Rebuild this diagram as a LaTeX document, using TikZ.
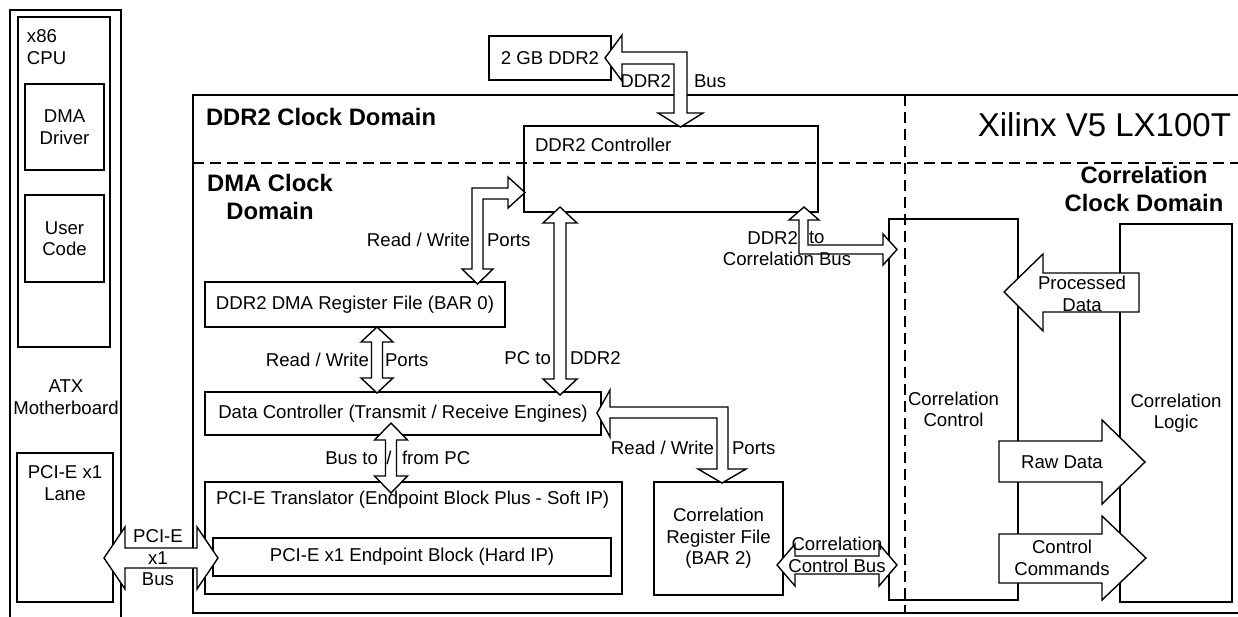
\documentclass[tikz,border=0pt]{standalone}
\usepackage{fontspec}
\setmainfont{Liberation Sans}
\usetikzlibrary{calc}
\newcommand\normaltext{\fontsize{18.6}{21.5}\selectfont}
\newcommand\headtext{\fontsize{23.8}{28}\selectfont\bfseries}
\newcommand\bigtext{\fontsize{33}{38}\selectfont}
\tikzset{
  box/.style={draw, line width=1.4pt, inner sep=0pt, outer sep=0pt,
    anchor=north west, align=center, font=\normaltext},
  blk/.style={draw, fill=white, line width=1.4pt, line join=miter},
  dom/.style={draw, line width=1.4pt, dash pattern=on 11pt off 6pt},
  lbl/.style={inner sep=0pt, outer sep=0pt, font=\normaltext, align=center},
  hd/.style={inner sep=0pt, outer sep=0pt, font=\headtext, align=center},
}
% vertical two-headed block arrow: top tip, bottom tip, shaft half width, head half width, head length
\newcommand\vdouble[5]{%
  \draw[blk] (#1) -- ++(#4,#5) -- ++(#3-#4,0) -- ($(#2)+(#3,-#5)$) -- ++(#4-#3,0)
    -- (#2) -- ++(-#4,-#5) -- ++(#4-#3,0) -- ($(#1)+(-#3,#5)$) -- ++(#3-#4,0) -- cycle;}
% horizontal two-headed block arrow: left tip, right tip, shaft half width, head half width, head length
\newcommand\hdouble[5]{%
  \draw[blk] (#1) -- ++(#5,-#4) -- ++(0,#4-#3) -- ($(#2)+(-#5,-#3)$) -- ++(0,#3-#4)
    -- (#2) -- ++(-#5,#4) -- ++(0,#3-#4) -- ($(#1)+(#5,#3)$) -- ++(0,#4-#3) -- cycle;}
\begin{document}
\begin{tikzpicture}[x=1pt,y=-1pt]
\clip (0,0) rectangle (1238,616);
\fill[white] (0,0) rectangle (1238,616);

% host side
\node[box, minimum width=111pt, minimum height=660pt] (atx) at (10,10) {};
\node[box, minimum width=92pt, minimum height=330pt] (cpu) at (18,17) {};
\node[box, minimum width=79pt, minimum height=86pt] (dmadrv) at (25,84) {DMA\\Driver};
\node[box, minimum width=79pt, minimum height=87pt] (usercode) at (25,195) {User\\Code};
\node[box, minimum width=96pt, minimum height=149pt] (lane) at (17,453) {};

% FPGA
\node[box, minimum width=1100pt, minimum height=518pt] (fpga) at (193,95) {};
\node[box, minimum width=122pt, minimum height=44pt] (mem) at (489,36) {2 GB DDR2};
\node[box, minimum width=294pt, minimum height=86pt] (ddrctl) at (524,126) {};
\node[box, minimum width=300pt, minimum height=45pt] (dmareg) at (205,282) {DDR2 DMA Register File (BAR 0)};
\node[box, minimum width=396pt, minimum height=43pt] (datactl) at (205,392) {Data Controller (Transmit / Receive Engines)};
\node[box, minimum width=417pt, minimum height=112pt] (pcitr) at (205,482) {};
\node[box, minimum width=398pt, minimum height=38pt] (endpt) at (213,538) {PCI-E x1 Endpoint Block (Hard IP)};
\node[box, minimum width=129pt, minimum height=113pt] (correg) at (654,482) {Correlation\\Register File\\(BAR 2)};
\node[box, minimum width=129pt, minimum height=381pt] (corrctl) at (889,219) {Correlation\\Control};
\node[box, minimum width=112pt, minimum height=378pt] (corrlogic) at (1120,224) {Correlation\\Logic};

% clock domain borders
\draw[dom] (193,163) -- (1240,163);
\draw[dom] (905,95) -- (905,613);

% connector end points
\coordinate (busA) at (605,58);
\coordinate (busB) at (680.5,127);
\coordinate (rwAtip) at (525,192.5);
\coordinate (rwAbot) at (477.5,284);
\coordinate (rwBtop) at (377,327);
\coordinate (rwBbot) at (377,393);
\coordinate (pcdTop) at (560,207);
\coordinate (pcdBot) at (560,395);
\coordinate (pcTop) at (391,423);
\coordinate (pcBot) at (391,493);
\coordinate (rwCtip) at (597,413);
\coordinate (rwCbot) at (722,483);
\coordinate (pcieL) at (104,558);
\coordinate (pcieR) at (218,558);
\coordinate (ccbL) at (777,565);
\coordinate (ccbR) at (897,565);
\coordinate (dcTop) at (804,207);
\coordinate (dcRight) at (897,249.5);
\coordinate (pdTip) at (1004,292);
\coordinate (rdTip) at (1145,462);
\coordinate (ccTip) at (1146,558);

% DDR2 bus: memory <-> DDR2 controller
\draw[blk] (busA) -- ++(17,-23) -- ++(0,17) -- ++(65,0) -- ++(0,61) -- ++(16,0)
  -- (busB) -- ++(-22.5,-14) -- ++(16,0) -- ++(0,-49) -- ++(-52,0) -- ++(0,17) -- cycle;
% DDR2 controller <-> DMA register file
\draw[blk] (rwAtip) -- ++(-17,-15.5) -- ++(0,11) -- ++(-36,0) -- ++(0,81) -- ++(-10,0)
  -- (rwAbot) -- ++(15.5,-15) -- ++(-10,0) -- ++(0,-70) -- ++(25,0) -- ++(0,9) -- cycle;
% register file <-> data controller
\vdouble{rwBtop}{rwBbot}{5.5}{16}{15}
% DDR2 controller <-> data controller
\vdouble{pcdTop}{pcdBot}{6}{17}{16}
% data controller <-> PCI-E translator
\vdouble{pcTop}{pcBot}{5.5}{16.5}{17}
% data controller <-> correlation register file
\draw[blk] (rwCtip) -- ++(13,-23) -- ++(0,17) -- ++(118,0) -- ++(0,62) -- ++(18,0)
  -- (rwCbot) -- ++(-24,-14) -- ++(19,0) -- ++(0,-51) -- ++(-107,0) -- ++(0,19) -- cycle;
% PCI-E x1 bus
\hdouble{pcieL}{pcieR}{10}{31}{21}
% correlation control bus
\hdouble{ccbL}{ccbR}{9}{21}{18}
% DDR2 to correlation bus
\draw[blk] (dcTop) -- ++(15,13) -- ++(-11,0) -- ++(0,25) -- ++(75,0) -- ++(0,-11)
  -- (dcRight) -- ++(-14,15.5) -- ++(0,-11) -- ++(-84,0) -- ++(0,-34) -- ++(-10,0) -- cycle;
% correlation logic -> control
\draw[blk] (pdTip) -- ++(39,-38) -- ++(0,19) -- ++(96,0) -- ++(0,39) -- ++(-96,0) -- ++(0,19) -- cycle;
\draw[blk] (rdTip) -- ++(-43,-42) -- ++(0,21) -- ++(-103,0) -- ++(0,41) -- ++(103,0) -- ++(0,22) -- cycle;
\draw[blk] (ccTip) -- ++(-44,-42) -- ++(0,18) -- ++(-103,0) -- ++(0,49) -- ++(103,0) -- ++(0,17) -- cycle;

% texts
\node[lbl, anchor=west, align=left] (cpulbl) at (27,47) {x86\\CPU};
\node[lbl] (atxlbl) at (66,397) {ATX\\Motherboard};
\node[lbl] (lanelbl) at (65,483) {PCI-E x1\\Lane};
\node[lbl] (pcielbl) at (158,558) {PCI-E\\x1\\Bus};
\node[hd, anchor=west] (ddrdom) at (206,117) {DDR2 Clock Domain};
\node[hd] (dmadom) at (270,197) {DMA Clock\\Domain};
\node[hd] (corrdom) at (1144,189) {Correlation\\Clock Domain};
\node[lbl, font=\bigtext, anchor=east] (chip) at (1231,125) {Xilinx V5 LX100T};
\node[lbl, anchor=east] (busl1) at (671,81) {DDR2};
\node[lbl, anchor=west] (busl2) at (694,81) {Bus};
\node[lbl, anchor=west] (ddrctllbl) at (535,145) {DDR2 Controller};
\node[lbl, anchor=east] (rwa1) at (470,240) {Read / Write};
\node[lbl, anchor=west] (rwa2) at (487,240) {Ports};
\node[lbl, anchor=east] (rwb1) at (369,360) {Read / Write};
\node[lbl, anchor=west] (rwb2) at (385,360) {Ports};
\node[lbl, anchor=east] (pcd1) at (551,358) {PC to};
\node[lbl, anchor=west] (pcd2) at (570,358) {DDR2};
\node[lbl, anchor=east] (rwc1) at (714,448) {Read / Write};
\node[lbl, anchor=west] (rwc2) at (732,448) {Ports};
\node[lbl, anchor=east] (pc1) at (378,458) {Bus to};
\node[lbl] (pc2) at (389,458) {/};
\node[lbl, anchor=west] (pc3) at (402,458) {from PC};
\node[lbl, anchor=west] (pcitrlbl) at (216,500) {PCI-E Translator (Endpoint Block Plus - Soft IP)};
\node[lbl] (ccbl) at (837,555) {Correlation\\Control Bus};
\node[lbl, anchor=east] (dc1) at (798,238) {DDR2};
\node[lbl, anchor=west] (dc2) at (809,238) {to};
\node[lbl] (dc3) at (787,259) {Correlation Bus};
\node[lbl] (pdlbl) at (1082,294) {Processed\\Data};
\node[lbl] (rdlbl) at (1062,462) {Raw Data};
\node[lbl] (cclbl) at (1062,558) {Control\\Commands};
\end{tikzpicture}
\end{document}
